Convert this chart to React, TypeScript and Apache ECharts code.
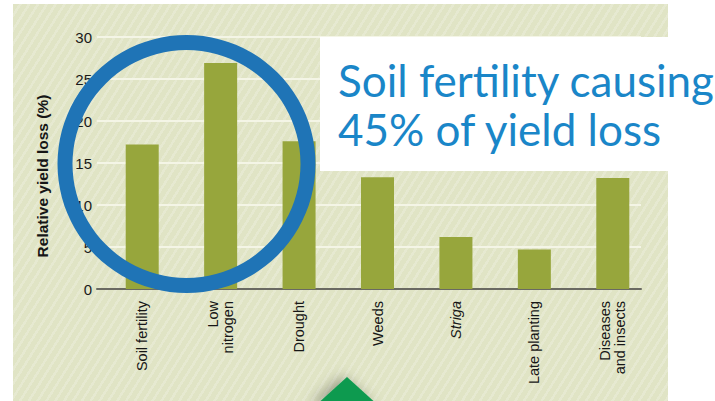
import React, { useEffect, useRef } from "react";
import * as echarts from "echarts";

const categories = [
  "Soil fertility",
  "Low\nnitrogen",
  "Drought",
  "Weeds",
  "Striga",
  "Late planting",
  "Diseases\nand insects",
];
const yieldLoss = [17.2, 26.9, 17.6, 13.3, 6.2, 4.7, 13.2];
const yMin = 0;
const yMax = 30;
const yStep = 5;
const yAxisTitle = "Relative yield loss (%)";
const headline = ["Soil fertility causing", "45% of yield loss"];

const LABEL_FONT = "'Liberation Sans', Arial, sans-serif";

export default function App() {
  const ref = useRef<HTMLDivElement>(null);

  useEffect(() => {
    if (!ref.current) return;
    const chart = echarts.init(ref.current, null, { renderer: "svg" });
    chart.setOption({
      animation: false,
      backgroundColor: "transparent",
      grid: [
        { left: 103, width: 549, top: 37, height: 252 },
        { left: 97, width: 544, top: 37, height: 252 },
      ],
      xAxis: [
        {
          type: "category",
          gridIndex: 0,
          data: categories,
          axisLine: { show: false },
          axisTick: { show: false },
          splitLine: { show: false },
          axisLabel: {
            rotate: 90,
            margin: 12,
            interval: 0,
            fontFamily: LABEL_FONT,
            fontSize: 14.5,
            lineHeight: 15,
            color: "#161616",
            formatter: (v: string) => (v === "Striga" ? "{it|Striga}" : v),
            rich: {
              it: {
                fontStyle: "italic",
                fontFamily: LABEL_FONT,
                fontSize: 14.5,
                color: "#161616",
              },
            },
          },
        },
        {
          type: "value",
          gridIndex: 1,
          min: 0,
          max: 1,
          axisLine: { show: true, lineStyle: { color: "#6a6a62", width: 2 } },
          axisTick: { show: false },
          axisLabel: { show: false },
          splitLine: { show: false },
        },
      ],
      yAxis: [
        {
          type: "value",
          gridIndex: 0,
          min: yMin,
          max: yMax,
          interval: yStep,
          show: false,
        },
        {
          type: "value",
          gridIndex: 1,
          min: yMin,
          max: yMax,
          interval: yStep,
          axisLine: { show: false },
          axisTick: { show: false },
          axisLabel: {
            margin: 5,
            fontFamily: LABEL_FONT,
            fontSize: 15,
            color: "#1a1a1a",
          },
          splitLine: {
            show: true,
            lineStyle: { color: "#f4f5e6", width: 2 },
          },
        },
      ],
      series: [
        {
          type: "bar",
          xAxisIndex: 0,
          yAxisIndex: 0,
          data: yieldLoss,
          barWidth: 33,
          itemStyle: { color: "#97a63c" },
          z: 3,
        },
      ],
      graphic: [
        {
          type: "text",
          x: 42,
          y: 176,
          rotation: Math.PI / 2,
          style: {
            text: yAxisTitle,
            fontFamily: LABEL_FONT,
            fontWeight: "bold",
            fontSize: 15.5,
            fill: "#161616",
            align: "center",
            verticalAlign: "middle",
          },
          z: 50,
        },
        {
          type: "ring",
          shape: { cx: 186.5, cy: 164, r: 129, r0: 114 },
          style: { fill: "#1f74b6" },
          z: 100,
        },
        {
          type: "rect",
          shape: { x: 320, y: 37, width: 395, height: 134 },
          style: { fill: "#ffffff" },
          z: 100,
        },
        {
          type: "text",
          x: 338,
          y: 80,
          style: {
            text: headline[0],
            fontFamily: "Lato, 'Open Sans', sans-serif",
            fontSize: 44,
            fill: "#1a86c8",
            align: "left",
            verticalAlign: "middle",
          },
          z: 101,
        },
        {
          type: "text",
          x: 338,
          y: 129,
          style: {
            text: headline[1],
            fontFamily: "Lato, 'Open Sans', sans-serif",
            fontSize: 44,
            fill: "#1a86c8",
            align: "left",
            verticalAlign: "middle",
          },
          z: 101,
        },
        {
          type: "polygon",
          shape: { points: [[347, 377], [315, 406], [379, 406]] },
          style: {
            fill: "#0c9a50",
            shadowBlur: 14,
            shadowColor: "rgba(0,0,0,0.35)",
            shadowOffsetX: -5,
          },
          z: 100,
        },
      ],
    });
    return () => chart.dispose();
  }, []);

  return (
    <div
      style={{
        position: "fixed",
        left: 0,
        top: 0,
        width: 715,
        height: 401,
        background: "#ffffff",
        overflow: "hidden",
      }}
    >
      <div
        style={{
          position: "absolute",
          left: 13,
          top: 4,
          width: 655,
          height: 397,
          backgroundColor: "#e0e4c5",
          backgroundImage:
            "repeating-linear-gradient(122deg, rgba(255,255,255,0) 0px, rgba(255,255,255,0) 5px, rgba(255,255,255,0.2) 5px, rgba(255,255,255,0.2) 7.5px)",
        }}
      />
      <div
        ref={ref}
        style={{ position: "absolute", left: 0, top: 0, width: 715, height: 401 }}
      />
    </div>
  );
}
